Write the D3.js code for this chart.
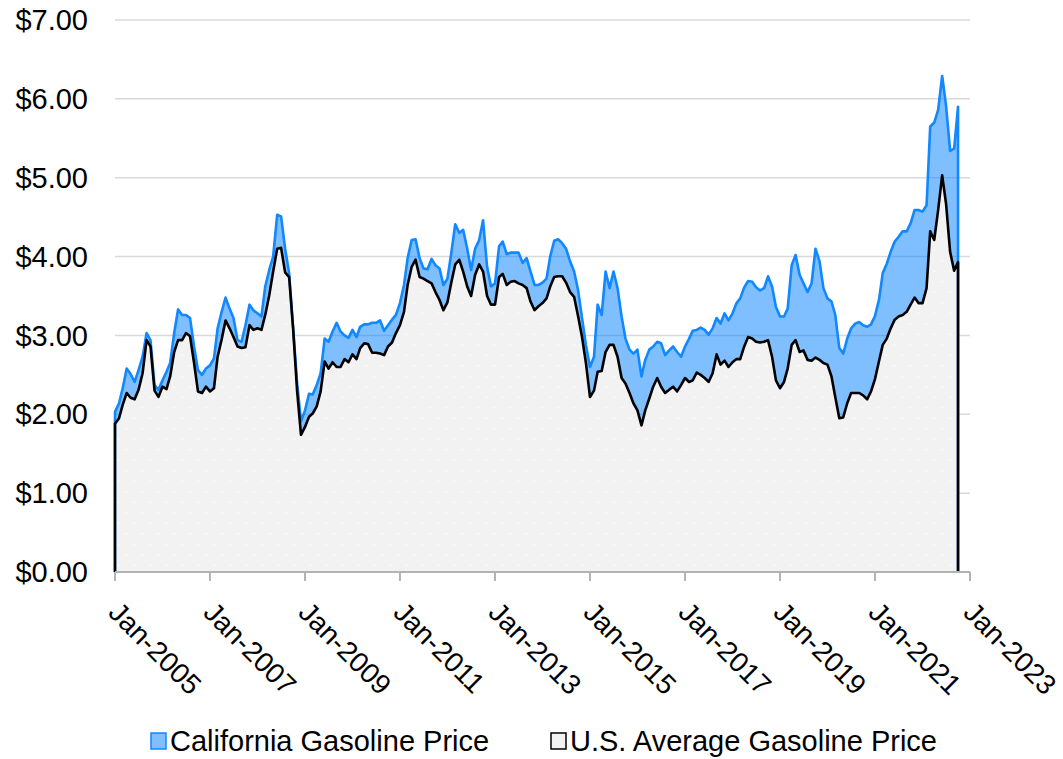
<!DOCTYPE html>
<html>
<head>
<meta charset="utf-8">
<script src="https://cdn.jsdelivr.net/npm/d3@7"></script>
<style>
  html, body { margin: 0; padding: 0; background: #ffffff; }
  svg { display: block; font-family: "Liberation Sans", Arial, sans-serif; }
</style>
</head>
<body>
<svg id="chart" width="1063" height="759"></svg>
<script>
// ---- DATA (monthly, Jan 2005 – Oct 2022, $/gallon) ----
const firstMonth = "2005-01";
const monthCount = 214;

const usPrices = [
  1.88, 1.95, 2.12, 2.27, 2.21, 2.19, 2.31, 2.52, 2.94, 2.86, 2.30, 2.22,
  2.35, 2.32, 2.48, 2.79, 2.94, 2.94, 3.03, 2.99, 2.65, 2.29, 2.27, 2.35,
  2.29, 2.33, 2.73, 2.95, 3.19, 3.09, 2.98, 2.86, 2.84, 2.85, 3.13, 3.07,
  3.09, 3.07, 3.26, 3.51, 3.81, 4.10, 4.11, 3.80, 3.74, 3.10, 2.30, 1.74,
  1.84, 1.97, 2.01, 2.10, 2.29, 2.67, 2.58, 2.66, 2.60, 2.60, 2.70, 2.66,
  2.76, 2.70, 2.84, 2.90, 2.89, 2.78, 2.78, 2.77, 2.75, 2.86, 2.91, 3.03,
  3.13, 3.30, 3.64, 3.87, 3.96, 3.74, 3.72, 3.69, 3.66, 3.55, 3.45, 3.32,
  3.42, 3.68, 3.90, 3.96, 3.81, 3.62, 3.50, 3.77, 3.90, 3.81, 3.50, 3.39,
  3.39, 3.74, 3.78, 3.64, 3.68, 3.69, 3.66, 3.64, 3.60, 3.43, 3.32, 3.37,
  3.41, 3.47, 3.62, 3.74, 3.75, 3.75, 3.67, 3.55, 3.49, 3.25, 2.98, 2.65,
  2.22, 2.30, 2.54, 2.55, 2.79, 2.88, 2.88, 2.73, 2.46, 2.39, 2.27, 2.14,
  2.05, 1.86, 2.05, 2.20, 2.35, 2.46, 2.35, 2.27, 2.31, 2.35, 2.29, 2.37,
  2.46, 2.41, 2.43, 2.53, 2.50, 2.46, 2.41, 2.52, 2.76, 2.63, 2.68, 2.60,
  2.66, 2.70, 2.70, 2.86, 2.98, 2.96, 2.92, 2.91, 2.92, 2.94, 2.73, 2.43,
  2.33, 2.41, 2.58, 2.88, 2.94, 2.79, 2.81, 2.69, 2.68, 2.72, 2.69, 2.65,
  2.63, 2.48, 2.22, 1.95, 1.96, 2.14, 2.27, 2.27, 2.27, 2.24, 2.19, 2.29,
  2.45, 2.68, 2.88, 2.96, 3.09, 3.20, 3.24, 3.26, 3.30, 3.39, 3.48, 3.41,
  3.41, 3.60, 4.32, 4.21, 4.59, 5.03, 4.67, 4.06, 3.82, 3.93
];

const caPrices = [
  2.03, 2.14, 2.33, 2.58, 2.51, 2.41, 2.56, 2.73, 3.03, 2.94, 2.37, 2.31,
  2.43, 2.54, 2.65, 3.03, 3.33, 3.26, 3.26, 3.22, 2.86, 2.56, 2.50, 2.58,
  2.62, 2.71, 3.09, 3.30, 3.48, 3.34, 3.22, 2.94, 2.92, 3.13, 3.39, 3.32,
  3.28, 3.24, 3.62, 3.83, 4.00, 4.53, 4.51, 4.10, 3.79, 3.11, 2.40, 1.91,
  2.05, 2.26, 2.25, 2.37, 2.52, 2.96, 2.92, 3.05, 3.16, 3.05, 3.00, 2.97,
  3.07, 2.98, 3.11, 3.14, 3.14, 3.16, 3.16, 3.19, 3.06, 3.13, 3.20, 3.26,
  3.41, 3.64, 3.98, 4.21, 4.22, 3.98, 3.85, 3.84, 3.97, 3.89, 3.85, 3.64,
  3.72, 4.06, 4.41, 4.30, 4.34, 4.10, 3.83, 4.10, 4.21, 4.46, 3.87, 3.62,
  3.66, 4.13, 4.19, 4.03, 4.05, 4.05, 4.05, 3.92, 3.98, 3.81, 3.64, 3.64,
  3.67, 3.72, 4.00, 4.20, 4.22, 4.17, 4.10, 3.94, 3.81, 3.58, 3.22, 2.88,
  2.60, 2.73, 3.39, 3.26, 3.81, 3.60, 3.81, 3.60, 3.24, 2.96, 2.82, 2.77,
  2.82, 2.48, 2.69, 2.82, 2.86, 2.92, 2.90, 2.75, 2.81, 2.86, 2.79, 2.73,
  2.86, 2.96, 3.06, 3.07, 3.10, 3.07, 3.01, 3.09, 3.22, 3.15, 3.28, 3.19,
  3.28, 3.41, 3.47, 3.61, 3.69, 3.68, 3.61, 3.57, 3.60, 3.75, 3.62, 3.36,
  3.24, 3.24, 3.34, 3.89, 4.02, 3.77, 3.66, 3.55, 3.66, 4.10, 3.94, 3.60,
  3.47, 3.43, 3.26, 2.84, 2.77, 2.96, 3.09, 3.15, 3.17, 3.13, 3.11, 3.14,
  3.25, 3.46, 3.79, 3.91, 4.06, 4.19, 4.25, 4.32, 4.32, 4.42, 4.59, 4.59,
  4.57, 4.65, 5.65, 5.70, 5.86, 6.29, 5.91, 5.34, 5.37, 5.90
];

const xTickLabels = ["Jan-2005", "Jan-2007", "Jan-2009", "Jan-2011", "Jan-2013",
                     "Jan-2015", "Jan-2017", "Jan-2019", "Jan-2021", "Jan-2023"];
const yTickValues = [0, 1, 2, 3, 4, 5, 6, 7];
const seriesNames = ["California Gasoline Price", "U.S. Average Gasoline Price"];

(function () {
// ---- BUILD ----
const parseMonth = d3.timeParse("%Y-%m");
const parseTick = d3.timeParse("%b-%Y");
const start = parseMonth(firstMonth);
const months = d3.timeMonth.range(start, d3.timeMonth.offset(start, monthCount));
const rows = months.map((d, i) => ({ date: d, us: usPrices[i], ca: caPrices[i] }));

const svg = d3.select("#chart");
const pLeft = 115, pRight = 970, pTop = 20, pBottom = 572;

const x = d3.scaleTime()
  .domain([parseTick(xTickLabels[0]), parseTick(xTickLabels[xTickLabels.length - 1])])
  .range([pLeft, pRight]);
const y = d3.scaleLinear().domain([0, 7]).range([pBottom, pTop]);

// pattern of white dots on light gray
const defs = svg.append("defs");
const pat = defs.append("pattern")
  .attr("id", "dots").attr("patternUnits", "userSpaceOnUse")
  .attr("x", 116).attr("y", 542).attr("width", 16).attr("height", 21);
pat.append("rect").attr("width", 16).attr("height", 21).attr("fill", "#f2f2f2");
pat.append("rect").attr("x", 1.5).attr("y", 1.5).attr("width", 1.6).attr("height", 1.6).attr("fill", "#ffffff");
pat.append("rect").attr("x", 9.5).attr("y", 12).attr("width", 1.6).attr("height", 1.6).attr("fill", "#ffffff");

// gridlines
svg.append("g").selectAll("line").data(yTickValues).join("line")
  .attr("x1", pLeft).attr("x2", pRight)
  .attr("y1", d => y(d)).attr("y2", d => y(d))
  .attr("stroke", "#d9d9d9").attr("stroke-width", 1.5);

// y labels
svg.append("g").selectAll("text").data(yTickValues).join("text")
  .attr("x", 88).attr("y", d => y(d))
  .attr("dy", "0.35em")
  .attr("text-anchor", "end")
  .attr("font-size", 29)
  .attr("fill", "#000")
  .text(d => d3.format("$.2f")(d));

// areas
const caArea = d3.area().x(d => x(d.date)).y0(y(0)).y1(d => y(d.ca));
const usArea = d3.area().x(d => x(d.date)).y0(y(0)).y1(d => y(d.us));

svg.append("path").datum(rows).attr("d", caArea)
  .attr("fill", "rgba(0,128,255,0.5)");
svg.append("path").datum(rows).attr("d", usArea)
  .attr("fill", "url(#dots)");

// outlines (line + vertical edges at ends)
function outline(key) {
  const pts = [[x(rows[0].date), y(0)]]
    .concat(rows.map(d => [x(d.date), y(d[key])]))
    .concat([[x(rows[rows.length - 1].date), y(0)]]);
  return d3.line()(pts);
}
svg.append("path").attr("d", outline("ca"))
  .attr("fill", "none").attr("stroke", "#1188ff").attr("stroke-width", 2.6)
  .attr("stroke-linejoin", "round");
svg.append("path").attr("d", outline("us"))
  .attr("fill", "none").attr("stroke", "#000000").attr("stroke-width", 2.6)
  .attr("stroke-linejoin", "round");

// x axis
const tickDates = xTickLabels.map(parseTick);
const xAxis = svg.append("g");
xAxis.append("line").attr("x1", pLeft).attr("x2", pRight)
  .attr("y1", pBottom).attr("y2", pBottom)
  .attr("stroke", "#b3b3b3").attr("stroke-width", 2);
xAxis.selectAll("line.tick").data(tickDates).join("line").attr("class", "tick")
  .attr("x1", d => x(d)).attr("x2", d => x(d))
  .attr("y1", pBottom).attr("y2", pBottom + 9)
  .attr("stroke", "#b3b3b3").attr("stroke-width", 2);
xAxis.selectAll("text").data(tickDates).join("text")
  .attr("transform", d => `translate(${x(d) - 8},${614}) rotate(45)`)
  .attr("text-anchor", "start")
  .attr("font-size", 28)
  .attr("fill", "#000")
  .text(d => d3.timeFormat("%b-%Y")(d));

// legend
const legend = svg.append("g");
const legendItems = [
  { name: seriesNames[0], sx: 151, fill: "rgba(0,128,255,0.5)", stroke: "#1188ff" },
  { name: seriesNames[1], sx: 551, fill: "#f2f2f2", stroke: "#000000" }
];
legendItems.forEach(it => {
  legend.append("rect").attr("x", it.sx).attr("y", 733).attr("width", 15).attr("height", 16)
    .attr("fill", it.fill).attr("stroke", it.stroke).attr("stroke-width", 1.5);
  legend.append("text").attr("x", it.sx + 19).attr("y", 751)
    .attr("font-size", 29).attr("fill", "#000").text(it.name);
});
})();
</script>
</body>
</html>
